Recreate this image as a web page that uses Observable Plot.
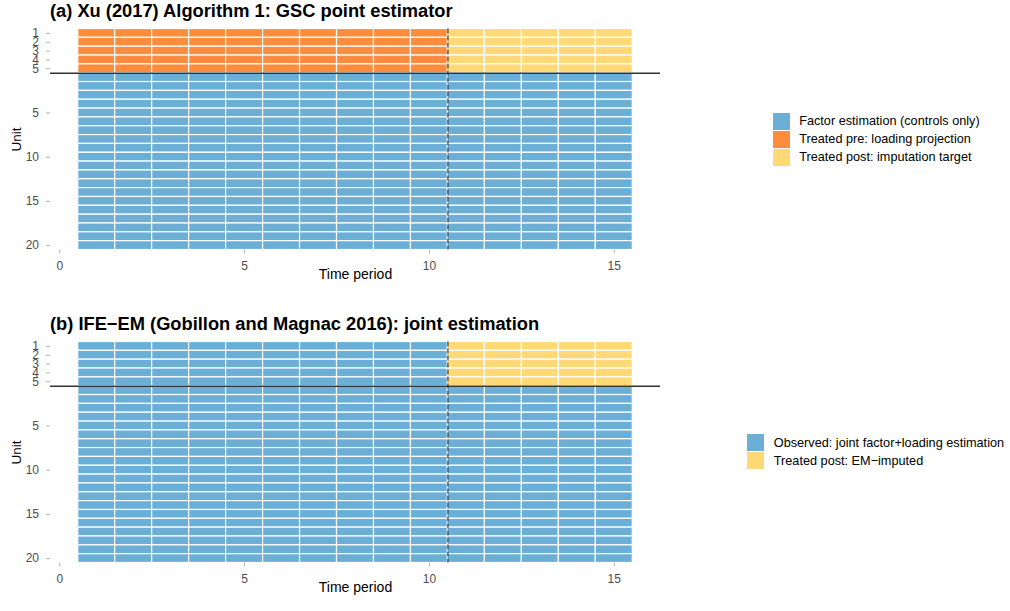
<!DOCTYPE html>
<html>
<head>
<meta charset="utf-8">
<script src="https://cdn.jsdelivr.net/npm/d3@7"></script>
<script src="https://cdn.jsdelivr.net/npm/@observablehq/plot@0.6"></script>
<style>
  body { margin: 0; background: #fff; }
  #chart { position: relative; width: 1010px; height: 611px; overflow: hidden;
           font-family: "Liberation Sans", Arial, Helvetica, sans-serif; }
  .panel { position: absolute; left: 0; width: 1010px; }
  .title { position: absolute; left: 50px; top: 0px; font-weight: bold; font-size: 18.3px;
           line-height: 21px; white-space: nowrap; color: #000; }
  .plotwrap { position: absolute; left: 0; top: 0; }
  .legwrap { position: absolute; }
  .legwrap svg { margin-right: 9.5px !important; }
  .plotwrap g[aria-label="x-axis tick"], .plotwrap g[aria-label="y-axis tick"] { stroke: #b3b3b3; }
  .plotwrap g[aria-label="x-axis label"] { fill: #000; font-size: 14px; }
  .plotwrap g[aria-label="y-axis label"] { fill: #000; font-size: 13.5px; }
</style>
</head>
<body>
<div id="chart"></div>
<script>
// Panel layout: treated units sit on top, control units below them
const treatedUnits = [1, 2, 3, 4, 5];
const controlUnits = [1, 2, 3, 4, 5, 6, 7, 8, 9, 10, 11, 12, 13, 14, 15, 16, 17, 18, 19, 20];
const periods = [1, 2, 3, 4, 5, 6, 7, 8, 9, 10, 11, 12, 13, 14, 15];
const treatStart = 11;          // first post-treatment period
const xTicks = [0, 5, 10, 15];
const controlTickUnits = [5, 10, 15, 20];

// Panel (a): Xu (2017) GSC
const titleA = "(a) Xu (2017) Algorithm 1: GSC point estimator";
const rolesA = ["Factor estimation (controls only)", "Treated pre: loading projection", "Treated post: imputation target"];
const colorsA = ["#6BAED6", "#FD8D3C", "#FED976"];

// Panel (b): IFE−EM
const titleB = "(b) IFE\u2212EM (Gobillon and Magnac 2016): joint estimation";
const rolesB = ["Observed: joint factor+loading estimation", "Treated post: EM\u2212imputed"];
const colorsB = ["#6BAED6", "#FED976"];

const fontFamily = '"Liberation Sans", Arial, Helvetica, sans-serif';

// One cell per (unit, period); row index stacks treated above controls
const units = [
  ...treatedUnits.map(u => ({group: "treated", unit: u})),
  ...controlUnits.map(u => ({group: "control", unit: u}))
];
const cells = [];
units.forEach((u, i) => {
  for (const t of periods) cells.push({...u, row: i + 1, period: t, post: t >= treatStart});
});

const roleA = d => d.group === "control" ? rolesA[0] : (d.post ? rolesA[2] : rolesA[1]);
const roleB = d => d.group === "treated" && d.post ? rolesB[1] : rolesB[0];

// y-axis ticks: every treated unit, and selected control units
const yTickPos = [
  ...treatedUnits.map((u, i) => i + 1),
  ...controlTickUnits.map(u => treatedUnits.length + controlUnits.indexOf(u) + 1)
];
const yTickLabels = [...treatedUnits.map(String), ...controlTickUnits.map(String)];
const yLabelAt = new Map(yTickPos.map((p, i) => [p, yTickLabels[i]]));

function drawPanel({top, height, title, roles, colors, role, legendLeft, legendTop}) {
  const panel = document.createElement("div");
  panel.className = "panel";
  panel.style.top = top + "px";
  panel.style.height = height + "px";

  const plot = Plot.plot({
    width: 680,
    height,
    marginLeft: 50,
    marginRight: 20,
    marginTop: 28.5,
    marginBottom: height - 249.5,
    x: {domain: [-0.25, 16.25]},
    y: {domain: [0.5, treatedUnits.length + controlUnits.length + 0.5], reverse: true},
    color: {type: "ordinal", domain: roles, range: colors},
    style: {fontFamily, fontSize: "12px", background: "transparent", overflow: "visible"},
    marks: [
      Plot.rect(cells, {
        x1: d => d.period - 0.5, x2: d => d.period + 0.5,
        y1: d => d.row - 0.5, y2: d => d.row + 0.5,
        fill: role, stroke: "white", strokeWidth: 1.2
      }),
      Plot.ruleY([treatedUnits.length + 0.5], {stroke: "#333", strokeWidth: 1.4}),
      Plot.ruleX([treatStart - 0.5], {stroke: "#333", strokeWidth: 1.2, strokeDasharray: "5,2"}),
      Plot.axisX(xTicks, {
        tickSize: 4, tickPadding: 7, fontSize: 12, color: "#4d4d4d",
        label: "Time period", labelAnchor: "center", labelArrow: "none", labelOffset: 28.5
      }),
      Plot.axisY(yTickPos, {
        tickSize: 4, tickPadding: 7.5, fontSize: 12, color: "#4d4d4d",
        tickFormat: d => yLabelAt.get(d),
        label: "Unit", labelAnchor: "center", labelArrow: "none", labelOffset: 39
      })
    ]
  });
  const wrap = document.createElement("div");
  wrap.className = "plotwrap";
  wrap.appendChild(plot);
  panel.appendChild(wrap);

  const t = document.createElement("div");
  t.className = "title";
  t.textContent = title;
  panel.appendChild(t);

  const leg = Plot.legend({
    color: {type: "ordinal", domain: roles, range: colors},
    legend: "swatches",
    columns: 1,
    swatchSize: 17,
    style: {fontFamily, fontSize: "12.7px", color: "#000", margin: "0"}
  });
  const lw = document.createElement("div");
  lw.className = "legwrap";
  lw.style.left = legendLeft + "px";
  lw.style.top = legendTop + "px";
  lw.appendChild(leg);
  panel.appendChild(lw);

  document.getElementById("chart").appendChild(panel);
}

drawPanel({top: 0, height: 300, title: titleA, roles: rolesA, colors: colorsA, role: roleA, legendLeft: 772.7, legendTop: 112.7});
drawPanel({top: 313, height: 298, title: titleB, roles: rolesB, colors: colorsB, role: roleB, legendLeft: 747.3, legendTop: 121});
</script>
</body>
</html>
